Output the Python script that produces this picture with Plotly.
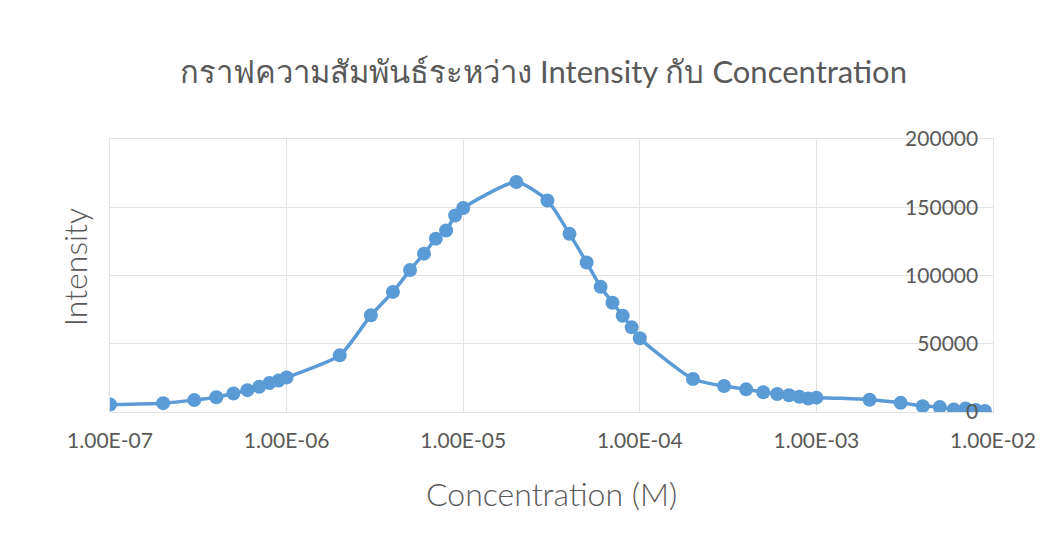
import plotly.graph_objects as go

# Data
concentration = [
    1e-7, 2e-7, 3e-7, 4e-7, 5e-7, 6e-7, 7e-7, 8e-7, 9e-7,
    1e-6, 2e-6, 3e-6, 4e-6, 5e-6, 6e-6, 7e-6, 8e-6, 9e-6,
    1e-5, 2e-5, 3e-5, 4e-5, 5e-5, 6e-5, 7e-5, 8e-5, 9e-5,
    1e-4, 2e-4, 3e-4, 4e-4, 5e-4, 6e-4, 7e-4, 8e-4, 9e-4,
    1e-3, 2e-3, 3e-3, 4e-3, 5e-3, 6e-3, 7e-3, 8e-3, 9e-3,
]
intensity = [
    5500, 6500, 8700, 10800, 13500, 16000, 18500, 21300, 23000,
    25300, 41500, 70800, 88000, 104000, 116000, 127000, 133000, 144000,
    149500, 168500, 155000, 130500, 109500, 91700, 80000, 70500, 62000,
    54000, 24200, 19000, 16600, 14500, 13200, 12300, 11200, 9800,
    10500, 9000, 6700, 4300, 3600, 1900, 2600, 1450, 700,
]
x_tick_vals = [1e-7, 1e-6, 1e-5, 1e-4, 1e-3, 1e-2]
x_tick_text = ["1.00E-07", "1.00E-06", "1.00E-05", "1.00E-04", "1.00E-03", "1.00E-02"]
y_tick_vals = [0, 50000, 100000, 150000, 200000]
y_tick_text = ["0", "50000", "100000", "150000", "200000"]

title_text = "กราฟความสัมพันธ์ระหว่าง Intensity กับ Concentration"
x_title = "Concentration (M)"
y_title = "Intensity"

BLUE = "#5B9BD5"
GRID = "#E2E2E2"
TEXT = "#595959"
FONT = "Lato, 'Noto Sans', sans-serif"

fig = go.Figure(
    go.Scatter(
        x=concentration,
        y=intensity,
        mode="lines+markers",
        line=dict(color=BLUE, width=3.5, shape="spline", smoothing=0.6),
        marker=dict(color=BLUE, size=14),
        showlegend=False,
    )
)

fig.update_layout(
    width=1044,
    height=551,
    paper_bgcolor="white",
    plot_bgcolor="white",
    margin=dict(l=102, r=59, t=131, b=147),
    font=dict(family=FONT, color=TEXT),
    title=dict(
        text=title_text,
        x=0.513,
        xanchor="center",
        y=0.884,
        yanchor="middle",
        font=dict(size=31, color=TEXT, family=FONT),
    ),
)

fig.update_xaxes(
    type="log",
    range=[-7, -2],
    tickvals=x_tick_vals,
    ticktext=x_tick_text,
    tickfont=dict(size=21, color=TEXT),
    ticklabelstandoff=10,
    ticklabeloverflow="allow",
    showgrid=True,
    gridcolor=GRID,
    gridwidth=1,
    showline=True,
    linecolor=GRID,
    linewidth=1,
    mirror=True,
    zeroline=False,
    automargin=False,
    title=None,
)

fig.update_yaxes(
    range=[0, 200000],
    side="right",
    tickvals=y_tick_vals,
    ticktext=y_tick_text,
    ticklabelposition="inside",
    ticklabelstandoff=16,
    ticklabeloverflow="allow",
    tickfont=dict(size=21, color=TEXT),
    showgrid=True,
    gridcolor=GRID,
    gridwidth=1,
    showline=True,
    linecolor=GRID,
    linewidth=1,
    mirror=True,
    zeroline=False,
    automargin=False,
    title=None,
)

fig.add_annotation(
    text=x_title,
    xref="paper",
    yref="paper",
    x=0.5,
    y=-0.297,
    xanchor="center",
    yanchor="middle",
    showarrow=False,
    font=dict(size=32, color=TEXT, family=FONT, weight=300),
)

fig.add_annotation(
    text=y_title,
    xref="paper",
    yref="paper",
    x=-0.0405,
    y=0.531,
    xanchor="center",
    yanchor="middle",
    textangle=-90,
    showarrow=False,
    font=dict(size=32, color=TEXT, family=FONT, weight=300),
)

fig.write_html("out.html")
